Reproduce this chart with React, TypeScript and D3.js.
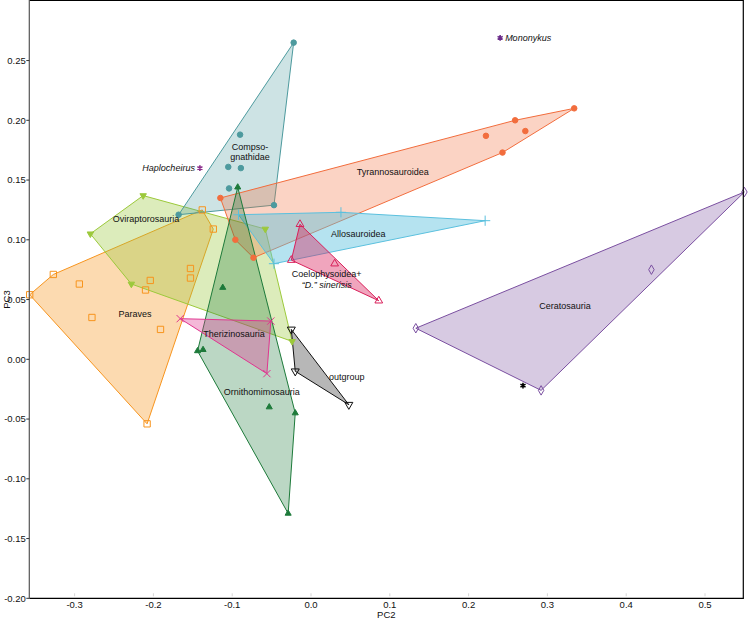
import React from 'react';
import * as d3 from 'd3';

// ---- Data (PC2, PC3) ----
const paraves: [number, number][] = [
  [-0.357, 0.054], [-0.327, 0.071], [-0.294, 0.063], [-0.278, 0.035], [-0.210, 0.058],
  [-0.204, 0.066], [-0.191, 0.025], [-0.153, 0.076], [-0.153, 0.068], [-0.138, 0.125],
  [-0.124, 0.109], [-0.208, -0.054],
];
const oviraptorosauria: [number, number][] = [
  [-0.213, 0.137], [-0.280, 0.105], [-0.228, 0.063], [-0.058, 0.109], [-0.024, 0.015],
];
const compsognathidae: [number, number][] = [
  [-0.022, 0.265], [-0.090, 0.188], [-0.105, 0.161], [-0.089, 0.160], [-0.104, 0.143],
  [-0.047, 0.129], [-0.168, 0.121],
];
const tyrannosauroidea: [number, number][] = [
  [-0.115, 0.135], [-0.096, 0.100], [-0.073, 0.085], [0.334, 0.210], [0.259, 0.200],
  [0.272, 0.191], [0.222, 0.187], [0.243, 0.173],
];
const allosauroidea: [number, number][] = [
  [-0.092, 0.121], [0.038, 0.123], [0.221, 0.116], [-0.047, 0.080],
];
const coelophysoidea: [number, number][] = [
  [-0.014, 0.113], [-0.025, 0.083], [0.030, 0.080], [0.086, 0.049],
];
const ornithomimosauria: [number, number][] = [
  [-0.093, 0.144], [-0.112, 0.060], [-0.144, 0.007], [-0.137, 0.008], [-0.053, -0.040],
  [-0.020, -0.045], [-0.029, -0.129],
];
const therizinosauria: [number, number][] = [
  [-0.166, 0.034], [-0.051, 0.032], [-0.056, -0.012],
];
const outgroup: [number, number][] = [
  [-0.025, 0.025], [-0.020, -0.010], [0.048, -0.038],
];
const ceratosauria: [number, number][] = [
  [0.133, 0.026], [0.550, 0.140], [0.292, -0.026], [0.432, 0.075],
];
const haplocheirus: [number, number] = [-0.141, 0.160];
const mononykus: [number, number] = [0.240, 0.269];
const unlabeled: [number, number] = [0.269, -0.022];

const xTicks = [-0.3, -0.2, -0.1, 0.0, 0.1, 0.2, 0.3, 0.4, 0.5];
const yTicks = [-0.2, -0.15, -0.1, -0.05, 0.0, 0.05, 0.1, 0.15, 0.2, 0.25];

const FONT = '"Liberation Sans", Arial, Helvetica, sans-serif';

const fmt = (d: number, n: number) => {
  const s = Math.abs(d).toFixed(n);
  return (d < -1e-9 ? '-' : '') + s;
};

export default function App() {
  const x = d3.scaleLinear().domain([-0.3575, 0.5486]).range([29.3, 743.3]);
  const y = d3.scaleLinear().domain([-0.2, 0.3]).range([598.3, 0.8]);

  const groups = [
    { pts: paraves, stroke: '#F7941D', op: 0.35, sym: d3.symbolSquare, size: 40, filled: false, rot: 0 },
    { pts: oviraptorosauria, stroke: '#9CC93B', op: 0.35, sym: d3.symbolTriangle, size: 18, filled: true, rot: 180 },
    { pts: compsognathidae, stroke: '#4D9A9E', op: 0.28, sym: d3.symbolCircle, size: 24, filled: true, rot: 0 },
    { pts: tyrannosauroidea, stroke: '#F26D3D', op: 0.3, sym: d3.symbolCircle, size: 24, filled: true, rot: 0 },
    { pts: allosauroidea, stroke: '#5BC0DE', op: 0.45, sym: d3.symbolPlus, size: 36, filled: false, rot: 0 },
    { pts: coelophysoidea, stroke: '#D91F5A', op: 0.4, sym: d3.symbolTriangle, size: 26, filled: false, rot: 0 },
    { pts: ornithomimosauria, stroke: '#1D7A3A', op: 0.3, sym: d3.symbolTriangle, size: 16, filled: true, rot: 0 },
    { pts: therizinosauria, stroke: '#E0358F', op: 0.35, sym: d3.symbolX, size: 36, filled: false, rot: 0 },
    { pts: outgroup, stroke: '#111111', op: 0.3, sym: d3.symbolTriangle, size: 28, filled: false, rot: 180 },
    { pts: ceratosauria, stroke: '#7A4FA0', op: 0.3, sym: d3.symbolDiamond, size: 26, filled: false, rot: 0 },
  ];

  const labels: { t: string; p: [number, number]; italic?: boolean }[] = [
    { t: 'Compso-', p: [-0.0774, 0.178] },
    { t: 'gnathidae', p: [-0.0774, 0.1695] },
    { t: 'Tyrannosauroidea', p: [0.1037, 0.1565] },
    { t: 'Oviraptorosauria', p: [-0.2094, 0.1174] },
    { t: 'Allosauroidea', p: [0.06, 0.1051] },
    { t: 'Coelophysoidea+', p: [0.0199, 0.0711] },
    { t: '\u201CD.\u201D sinerisis', p: [0.0199, 0.0622], italic: true },
    { t: 'Paraves', p: [-0.2234, 0.0379] },
    { t: 'Therizinosauria', p: [-0.0977, 0.0209] },
    { t: 'Ornithomimosauria', p: [-0.0626, -0.0274] },
    { t: 'outgroup', p: [0.0453, -0.0151] },
    { t: 'Ceratosauria', p: [0.3223, 0.0449] },
  ];

  const line = d3.line();
  const x0 = x.range()[0], x1 = x.range()[1], y0 = y.range()[0], y1 = y.range()[1];

  return (
    <svg width={748} height={619} style={{ position: 'absolute', left: 0, top: 0, background: '#fff' }} fontFamily={FONT}>
      <rect x={0} y={0} width={748} height={619} fill="#fff" />
      {/* hulls */}
      {groups.map((g, i) => {
        const px = g.pts.map(([a, b]) => [x(a), y(b)] as [number, number]);
        const hull = d3.polygonHull(px) || px;
        return (
          <path key={'h' + i} d={line(hull)! + 'Z'} fill={g.stroke} fillOpacity={g.op}
            stroke={g.stroke} strokeWidth={1} strokeLinejoin="round" />
        );
      })}
      {/* markers */}
      {groups.map((g, i) =>
        g.pts.map(([a, b], j) => (
          <path key={'m' + i + '-' + j}
            d={d3.symbol().type(g.sym).size(g.size)()!}
            transform={`translate(${x(a)},${y(b)}) rotate(${g.rot})`}
            fill={g.filled ? g.stroke : 'none'} stroke={g.stroke} strokeWidth={1} />
        ))
      )}
      {/* singletons */}
      <path d={d3.symbol().type(d3.symbolAsterisk).size(24)()!}
        transform={`translate(${x(haplocheirus[0])},${y(haplocheirus[1])})`} stroke="#8B2E8B" strokeWidth={1.6} fill="none" />
      <text x={x(haplocheirus[0]) - 5} y={y(haplocheirus[1])} dy="0.35em" textAnchor="end" fontSize={9} fontStyle="italic" fill="#111">Haplocheirus</text>
      <path d={d3.symbol().type(d3.symbolAsterisk).size(24)()!}
        transform={`translate(${x(mononykus[0])},${y(mononykus[1])})`} stroke="#6B2C8A" strokeWidth={1.6} fill="none" />
      <text x={x(mononykus[0]) + 5} y={y(mononykus[1])} dy="0.35em" textAnchor="start" fontSize={9} fontStyle="italic" fill="#111">Mononykus</text>
      <path d={d3.symbol().type(d3.symbolAsterisk).size(24)()!}
        transform={`translate(${x(unlabeled[0])},${y(unlabeled[1])})`} stroke="#000" strokeWidth={1.6} fill="none" />
      {/* group labels */}
      {labels.map((l, i) => (
        <text key={'l' + i} x={x(l.p[0])} y={y(l.p[1])} dy="0.35em" textAnchor="middle" fontSize={9}
          fontStyle={l.italic ? 'italic' : 'normal'} fill="#111">{l.t}</text>
      ))}
      {/* frame */}
      <line x1={x0} x2={x1} y1={y1 - 0.5} y2={y1 - 0.5} stroke="#000" strokeWidth={1.2} />
      <line x1={x1} x2={x1} y1={y1 - 1} y2={y0} stroke="#000" strokeWidth={1.2} />
      <line x1={x0} x2={x1 + 0.6} y1={y0} y2={y0} stroke="#000" strokeWidth={1.2} />
      <line x1={x0} x2={x0} y1={y1 - 1} y2={y0 + 0.6} stroke="#555" strokeWidth={1.2} />
      {/* y ticks */}
      {yTicks.map((t, i) => (
        <g key={'yt' + i}>
          <line x1={x0 - 3} x2={x0} y1={y(t)} y2={y(t)} stroke="#333" strokeWidth={1} />
          <text x={x0 - 3.5} y={y(t)} dy="0.35em" textAnchor="end" fontSize={9.5} fill="#111">{fmt(t, 2)}</text>
        </g>
      ))}
      {/* x ticks */}
      {xTicks.map((t, i) => (
        <g key={'xt' + i}>
          <line x1={x(t)} x2={x(t)} y1={y0 - 5} y2={y0 - 2} stroke="#ccc" strokeWidth={0.8} />
          <text x={x(t)} y={y0 + 10} textAnchor="middle" fontSize={9.5} fill="#111">{fmt(t, 1)}</text>
        </g>
      ))}
      <text x={(x0 + x1) / 2} y={y0 + 19.5} textAnchor="middle" fontSize={9.5} fill="#111">PC2</text>
      <text transform={`translate(${x0 - 19},${(y0 + y1) / 2}) rotate(-90)`} textAnchor="middle" fontSize={9.5} fill="#111">PC3</text>
    </svg>
  );
}
